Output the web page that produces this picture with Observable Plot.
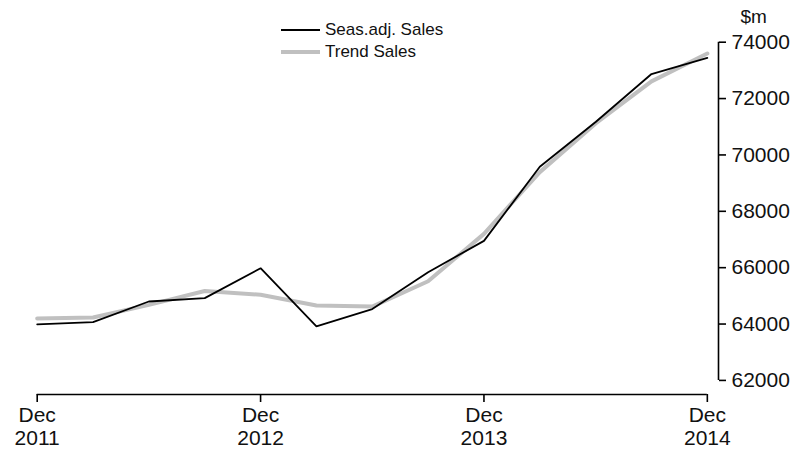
<!DOCTYPE html>
<html>
<head>
<meta charset="utf-8">
<script src="https://cdn.jsdelivr.net/npm/d3@7"></script>
<script src="https://cdn.jsdelivr.net/npm/@observablehq/plot@0.6"></script>
<style>
  html, body { margin: 0; padding: 0; background: #fff; }
  #wrap { position: relative; width: 797px; height: 451px; font-family: "Liberation Sans", Arial, sans-serif; }
  #legend { position: absolute; left: 281px; top: 19px; font-size: 17px; color: #111; line-height: 22px; }
  .item { display: flex; align-items: center; height: 22px; }
  .sw { width: 39px; margin-right: 5px; }
</style>
</head>
<body>
<div id="wrap">
  <div id="chart"></div>
  <div id="legend"></div>
</div>
<script>
// Quarter labels (Dec 2011 .. Dec 2014)
const quarters = ["Dec 2011","Mar 2012","Jun 2012","Sep 2012","Dec 2012","Mar 2013","Jun 2013","Sep 2013","Dec 2013","Mar 2014","Jun 2014","Sep 2014","Dec 2014"];
const seasAdj = [63990, 64070, 64800, 64920, 65980, 63920, 64530, 65840, 66950, 69580, 71170, 72870, 73440];
const trend   = [64200, 64230, 64680, 65170, 65040, 64660, 64620, 65520, 67200, 69390, 71120, 72610, 73600];
const xTicks = [0, 4, 8, 12];
const xTickLabels = ["Dec\n2011", "Dec\n2012", "Dec\n2013", "Dec\n2014"];
const yTicks = [62000, 64000, 66000, 68000, 70000, 72000, 74000];
const seriesNames = ["Seas.adj. Sales", "Trend Sales"];
const seriesColors = ["#000000", "#c0c0c0"];
const seriesWidths = [1.8, 4];

const rows = quarters.map((q, i) => ({i, q, sa: seasAdj[i], tr: trend[i]}));

const fontSize = 21;
const chart = Plot.plot({
  width: 797,
  height: 451,
  marginTop: 41.7,
  marginBottom: 57,
  marginLeft: 36.7,
  marginRight: 79,
  style: {fontFamily: "Liberation Sans, Arial, sans-serif", fontSize: fontSize + "px", color: "#111", background: "#fff"},
  x: {domain: [0, 12.2], type: "linear"},
  y: {domain: [61500, 74000]},
  marks: [
    Plot.ruleY([61500], {x1: xTicks[0], x2: xTicks[xTicks.length - 1], stroke: "#000", strokeWidth: 1.6}),
    Plot.ruleX([12.2], {y1: yTicks[0], y2: yTicks[yTicks.length - 1], stroke: "#000", strokeWidth: 1.6}),
    Plot.axisX({ticks: xTicks, tickFormat: (d, k) => xTickLabels[k], tickSize: 8, tickPadding: 3, stroke: "#000", strokeWidth: 1.6, fontSize: fontSize, lineHeight: 1.1, label: null}),
    Plot.axisY({anchor: "right", ticks: yTicks, tickFormat: d => String(d), tickSize: 7, tickPadding: 6, stroke: "#000", strokeWidth: 1.6, fontSize: fontSize, label: null}),
    Plot.text(["$m"], {frameAnchor: "top-right", dx: 22, dy: -25, textAnchor: "start", lineAnchor: "middle", fontSize: 19}),
    Plot.line(rows, {x: "i", y: "tr", stroke: seriesColors[1], strokeWidth: seriesWidths[1], strokeLinejoin: "miter"}),
    Plot.line(rows, {x: "i", y: "sa", stroke: seriesColors[0], strokeWidth: seriesWidths[0], strokeLinejoin: "miter"})
  ]
});
document.getElementById("chart").appendChild(chart);

const legend = document.getElementById("legend");
seriesNames.forEach((name, k) => {
  const item = document.createElement("div");
  item.className = "item";
  item.innerHTML = `<svg class="sw" width="39" height="6"><line x1="0" x2="39" y1="3" y2="3" stroke="${seriesColors[k]}" stroke-width="${seriesWidths[k]}"/></svg><span>${name}</span>`;
  legend.appendChild(item);
});
</script>
</body>
</html>
